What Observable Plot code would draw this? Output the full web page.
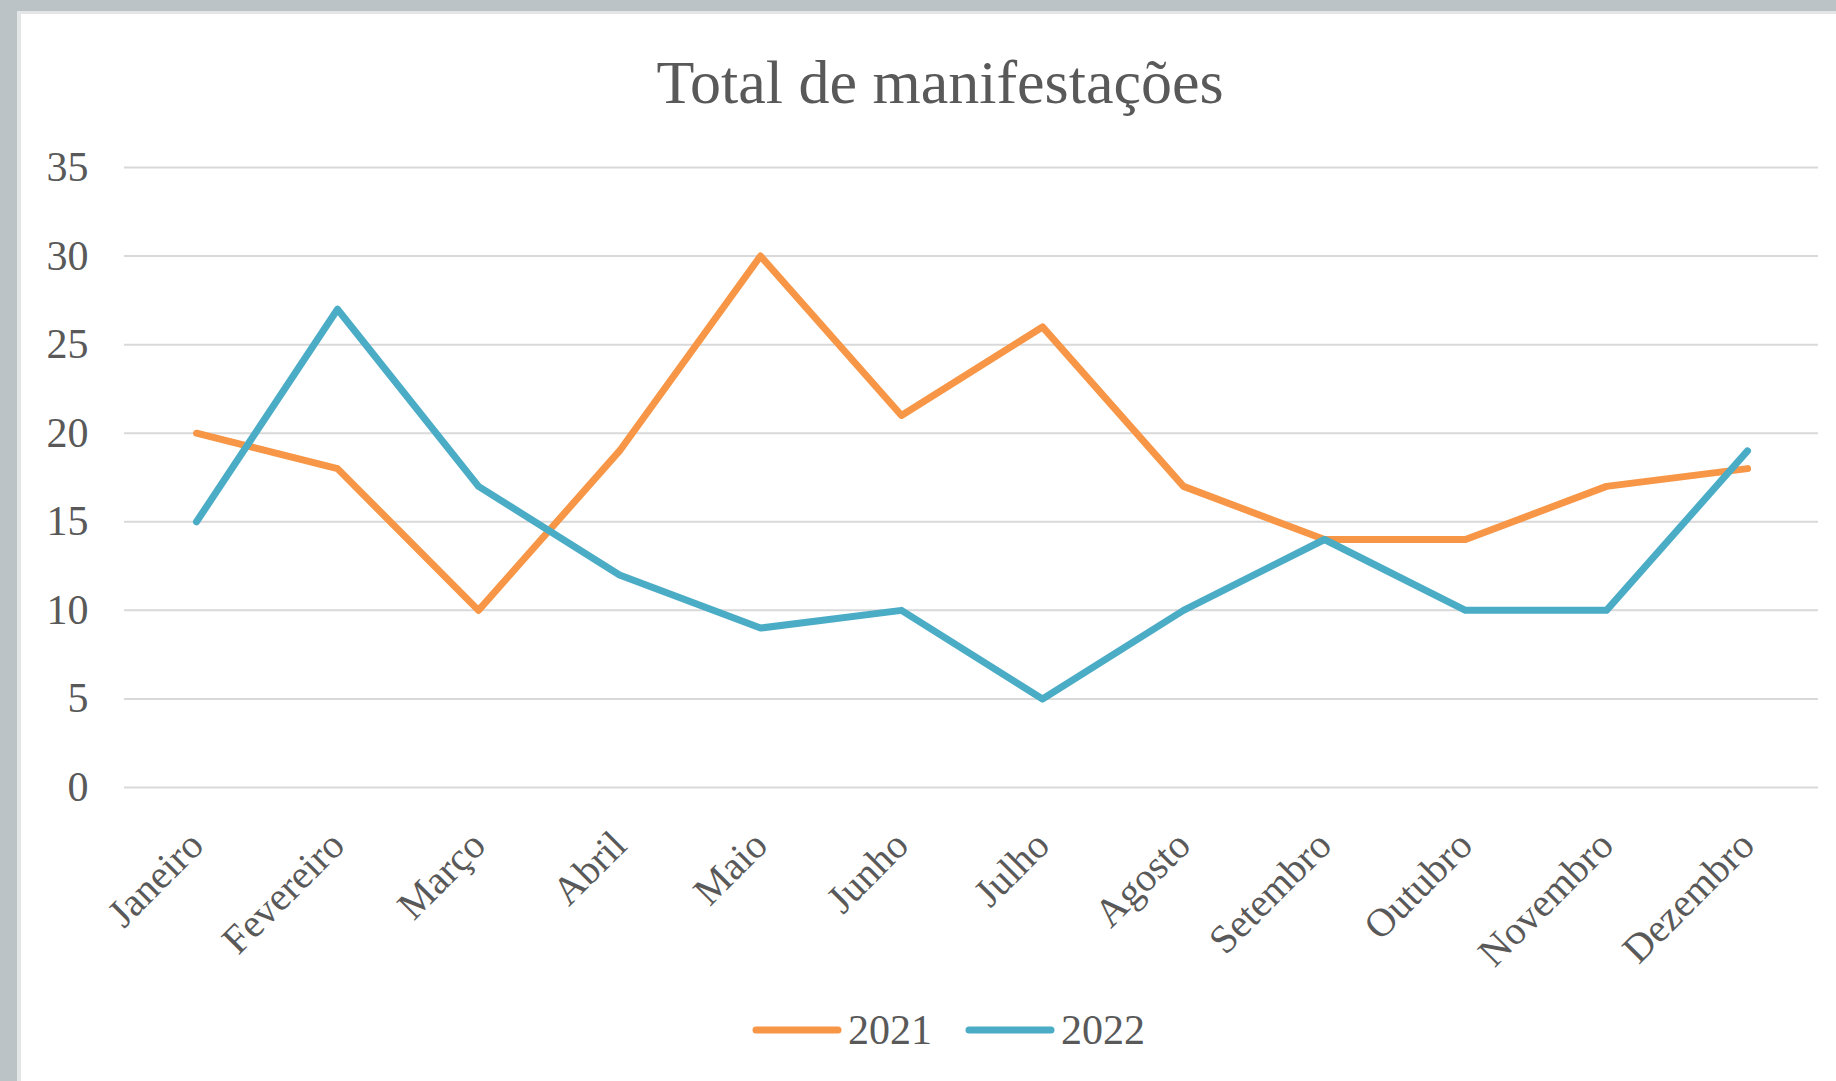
<!DOCTYPE html>
<html>
<head>
<meta charset="utf-8">
<script src="https://cdn.jsdelivr.net/npm/d3@7"></script>
<script src="https://cdn.jsdelivr.net/npm/@observablehq/plot@0.6"></script>
<style>
  html, body { margin: 0; padding: 0; width: 1836px; height: 1081px; overflow: hidden; background: #bcc3c6; }
  #panel { position: absolute; left: 17px; top: 11px; width: 1815px; height: 1070px; background: #ffffff;
           border-left: 4px solid #e3e5e6; border-top: 3px solid #e3e5e6; }
  #title { position: absolute; left: 40px; top: 51px; width: 1800px; text-align: center;
           font-family: "Liberation Serif", serif; font-size: 62px; line-height: 62px; color: #595959; }
  #chart { position: absolute; left: 0; top: 120px; }
  #legend { position: absolute; left: 0; top: 1008px; width: 1836px; height: 44px;
            font-family: "Liberation Serif", serif; font-size: 42px; line-height: 44px; color: #595959; }
  .item { position: absolute; top: 0; display: flex; align-items: center; }
  .item svg { display: block; margin-right: 6px; }
</style>
</head>
<body>
<div id="panel"></div>
<div id="title">Total de manifestações</div>
<div id="chart"></div>
<div id="legend"></div>
<script>
const months = ["Janeiro", "Fevereiro", "Março", "Abril", "Maio", "Junho", "Julho", "Agosto", "Setembro", "Outubro", "Novembro", "Dezembro"];
const series = ["2021", "2022"];
const values2021 = [20, 18, 10, 19, 30, 21, 26, 17, 14, 14, 17, 18];
const values2022 = [15, 27, 17, 12, 9, 10, 5, 10, 14, 10, 10, 19];
const yTicks = [0, 5, 10, 15, 20, 25, 30, 35];
const colors = ["#F79646", "#4BACC6"];

const data = [];
months.forEach((m, i) => data.push({month: m, value: values2021[i], series: series[0]}));
months.forEach((m, i) => data.push({month: m, value: values2022[i], series: series[1]}));

const fontFamily = '"Liberation Serif", serif';

const plot = Plot.plot({
  width: 1836,
  height: 880,
  marginLeft: 124,
  marginRight: 18,
  marginTop: 47,
  marginBottom: 213,
  style: {background: "transparent", fontFamily: fontFamily, color: "#595959", overflow: "visible"},
  x: {type: "point", domain: months, padding: 0.5, label: null},
  y: {domain: [0, 35], label: null},
  color: {domain: series, range: colors},
  marks: [
    Plot.ruleY(yTicks, {stroke: "#d9d9d9", strokeWidth: 2}),
    Plot.axisY({ticks: yTicks, tickSize: 0, tickPadding: 36, fontSize: 42, label: null, fill: "#595959"}),
    Plot.axisX({tickSize: 0, tickRotate: -45, tickPadding: 51, dx: 0, fontSize: 40, label: null, fill: "#595959"}),
    Plot.lineY(data, {x: "month", y: "value", stroke: "series", strokeWidth: 7, strokeLinejoin: "round", strokeLinecap: "round"})
  ]
});
document.getElementById("chart").appendChild(plot);

// legend
const legend = document.getElementById("legend");
const legendX = [752, 965];
series.forEach((s, i) => {
  const item = document.createElement("div");
  item.className = "item";
  item.style.left = legendX[i] + "px";
  const sw = d3.create("svg").attr("width", 90).attr("height", 44);
  sw.append("line").attr("x1", 4).attr("x2", 86).attr("y1", 22).attr("y2", 22)
    .attr("stroke", colors[i]).attr("stroke-width", 7).attr("stroke-linecap", "round");
  item.appendChild(sw.node());
  const label = document.createElement("span");
  label.textContent = s;
  item.appendChild(label);
  legend.appendChild(item);
});
</script>
</body>
</html>
